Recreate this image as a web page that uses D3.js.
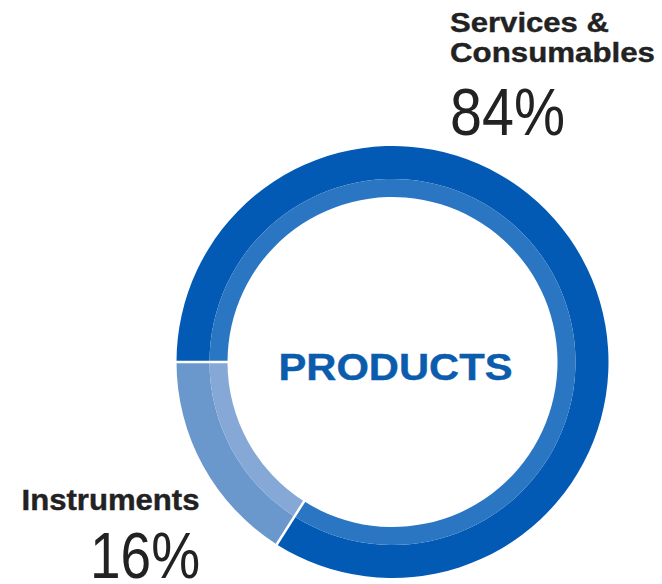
<!DOCTYPE html>
<html><head><meta charset="utf-8">
<script src="https://cdn.jsdelivr.net/npm/d3@7"></script>
<style>html,body{margin:0;padding:0;background:#fff;}svg{display:block;}</style>
</head><body>
<svg id="chart" width="662" height="584"></svg>
<script>
const categories = ["Services & Consumables", "Instruments"];
const values = [84, 16];
const percentLabels = ["84%", "16%"];
const centerLabel = "PRODUCTS";

const outerColors = ["#025ab4", "#6a98cc"];
const innerColors = ["#2b76c2", "#86a8d6"];

const svg = d3.select("#chart");
const cx = 392.5, cy = 362;
const rOuter = 216, rMid = 183, rInner = 165;

const pie = d3.pie().sort(null).value(d => d)
  .startAngle(-Math.PI / 2).endAngle(1.5 * Math.PI);
const arcs = pie(values);

const g = svg.append("g").attr("transform", `translate(${cx},${cy})`);
const outerArc = d3.arc().innerRadius(rMid).outerRadius(rOuter);
const innerArc = d3.arc().innerRadius(rInner).outerRadius(rMid);

g.selectAll("path.outer").data(arcs).join("path")
  .attr("class", "outer").attr("d", outerArc)
  .attr("fill", (d, i) => outerColors[i]);
g.selectAll("path.inner").data(arcs).join("path")
  .attr("class", "inner").attr("d", innerArc)
  .attr("fill", (d, i) => innerColors[i]);

// white separators at slice boundaries
g.selectAll("line.sep").data(arcs).join("line")
  .attr("class", "sep")
  .attr("x1", d => Math.sin(d.startAngle) * (rInner - 1))
  .attr("y1", d => -Math.cos(d.startAngle) * (rInner - 1))
  .attr("x2", d => Math.sin(d.startAngle) * (rOuter + 1))
  .attr("y2", d => -Math.cos(d.startAngle) * (rOuter + 1))
  .attr("stroke", "#fff").attr("stroke-width", 2.5);

const font = "Liberation Sans, Arial, sans-serif";
const dark = "#222222";

svg.append("text")
  .attr("x", 395.5).attr("y", 379.5)
  .attr("text-anchor", "middle")
  .attr("font-family", font)
  .attr("font-weight", "bold").attr("font-size", 36)
  .attr("textLength", 234).attr("lengthAdjust", "spacingAndGlyphs")
  .attr("fill", "#0b5cad").attr("stroke", "#0b5cad").attr("stroke-width", 0.4)
  .text(centerLabel);

// Services & Consumables label
svg.append("text").attr("x", 450).attr("y", 32)
  .attr("font-family", font).attr("font-weight", "bold").attr("font-size", 28.5)
  .attr("textLength", 159).attr("lengthAdjust", "spacingAndGlyphs")
  .attr("fill", dark).attr("stroke", dark).attr("stroke-width", 0.4).text("Services &");
svg.append("text").attr("x", 450).attr("y", 61.5)
  .attr("font-family", font).attr("font-weight", "bold").attr("font-size", 28.5)
  .attr("textLength", 205).attr("lengthAdjust", "spacingAndGlyphs")
  .attr("fill", dark).attr("stroke", dark).attr("stroke-width", 0.4).text("Consumables");
svg.append("text").attr("x", 450).attr("y", 135)
  .attr("font-family", font).attr("font-size", 66)
  .attr("textLength", 115).attr("lengthAdjust", "spacingAndGlyphs")
  .attr("fill", dark).text(percentLabels[0]);

// Instruments label
svg.append("text").attr("x", 21.5).attr("y", 509.5)
  .attr("font-family", font).attr("font-weight", "bold").attr("font-size", 29)
  .attr("textLength", 178).attr("lengthAdjust", "spacingAndGlyphs")
  .attr("fill", dark).attr("stroke", dark).attr("stroke-width", 0.4).text(categories[1]);
svg.append("text").attr("x", 90).attr("y", 578)
  .attr("font-family", font).attr("font-size", 65)
  .attr("textLength", 110).attr("lengthAdjust", "spacingAndGlyphs")
  .attr("fill", dark).text(percentLabels[1]);
</script>
</body></html>
